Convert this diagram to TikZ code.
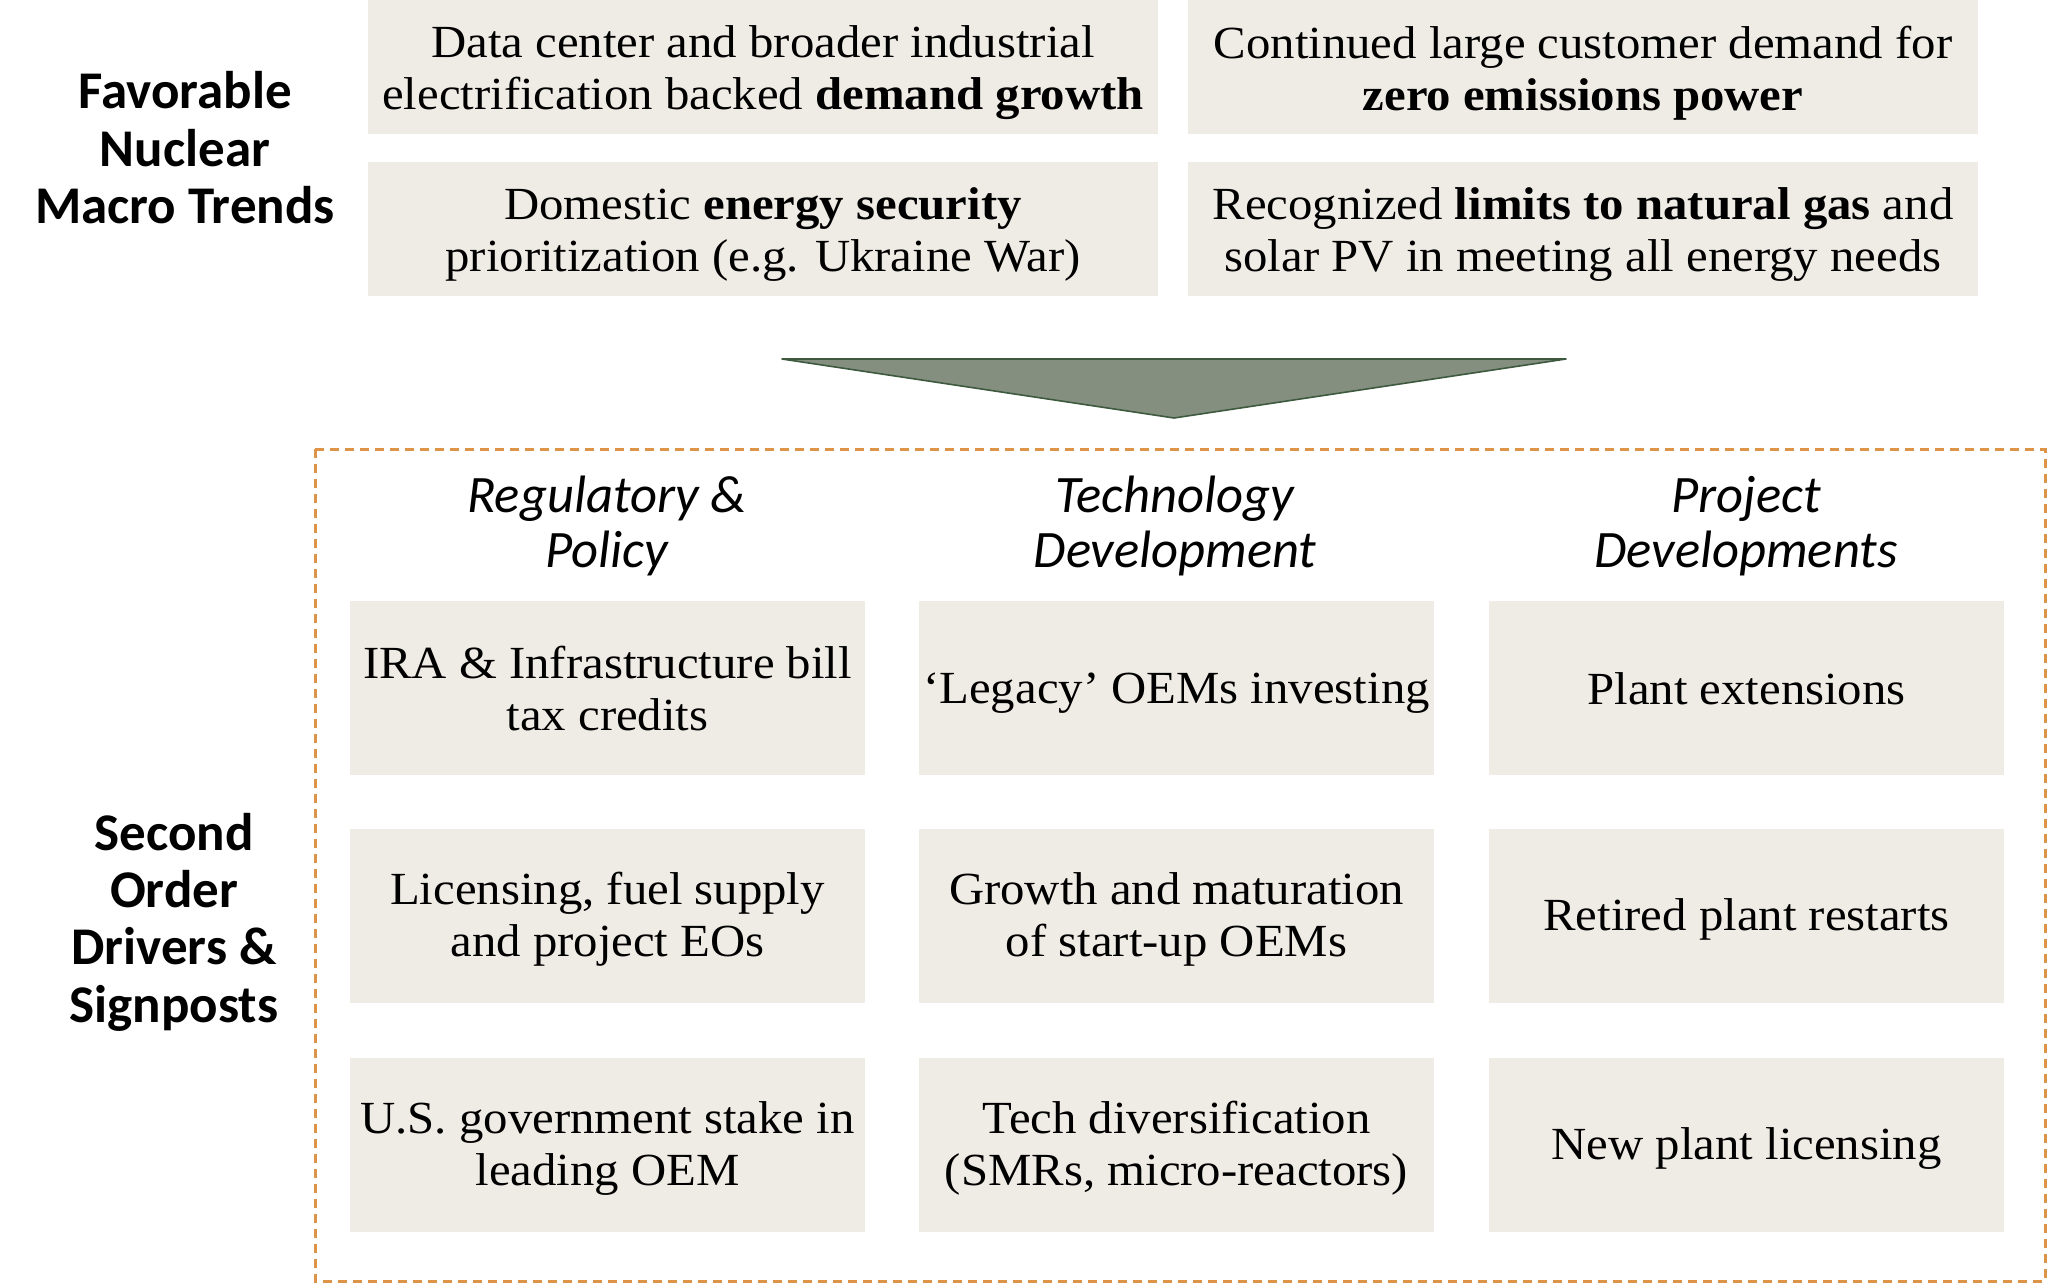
\documentclass[tikz,border=0pt]{standalone}
\usepackage{fontspec}
\setmainfont[FakeStretch=1.06]{Liberation Serif}
\newfontfamily\headfont{Carlito}
\definecolor{boxbg}{HTML}{EFEBE5}
\definecolor{frameorange}{HTML}{DE9448}
\definecolor{trifill}{HTML}{848F80}
\definecolor{triedge}{HTML}{3E5A3E}
\tikzset{
  btext/.style={align=center, inner sep=0pt, font=\fontsize{23}{26}\selectfont},
  topbox/.style={fill=boxbg, minimum width=395pt, minimum height=67pt, inner sep=0pt},
  gridbox/.style={fill=boxbg, minimum width=257.5pt, minimum height=87pt, inner sep=0pt},
  rowhead/.style={align=center, font=\headfont\bfseries\fontsize{26.5}{28.7}\selectfont},
  colhead/.style={align=center, font=\headfont\itshape\fontsize{26.3}{27.5}\selectfont},
  frame/.style={draw=frameorange, line width=1.5pt, dash pattern=on 4.5pt off 3pt},
}
\begin{document}
\begin{tikzpicture}[x=0.5pt,y=-0.5pt]
\useasboundingbox (0,0) rectangle (2048,1284);
% top boxes
\node[topbox, label={[btext, yshift=-3pt]center:{Data center and broader industrial\\electrification backed \textbf{demand growth}}}] (t1) at (763,67) {};
\node[topbox, label={[btext, yshift=-3pt]center:{Continued large customer demand for\\\textbf{zero emissions power}}}] (t2) at (1583,67) {};
\node[topbox, label={[btext, yshift=-3pt]center:{Domestic \textbf{energy security}\\prioritization (e.g. Ukraine War)}}] (t3) at (763,229) {};
\node[topbox, label={[btext, yshift=-3pt]center:{Recognized \textbf{limits to natural gas} and\\solar PV in meeting all energy needs}}] (t4) at (1583,229) {};
\node[rowhead] (h1) at (185,148) {Favorable\\Nuclear\\Macro Trends};
% triangle
\draw[fill=trifill, draw=triedge, line width=0.8pt, line join=round] (782,359) -- (1566,359) -- (1174,418) -- cycle;
% frame
\draw[frame] (315,449) rectangle (2045,1281);
\node[rowhead] (h2) at (174,922) {Second\\Order\\Drivers \&\\Signposts};
% column heads
\node[colhead] (c1) at (607,526) {Regulatory \&\\Policy};
\node[colhead] (c2) at (1175,526) {Technology\\Development};
\node[colhead] (c3) at (1746,526) {Project\\Developments};
% grid
\node[gridbox, label={[btext, yshift=-0.5pt]center:{IRA \& Infrastructure bill\\tax credits}}] (g11) at (607.5,688) {};
\node[gridbox, label={[btext, yshift=-2pt]center:{Licensing, fuel supply\\and project EOs}}] (g21) at (607.5,915.5) {};
\node[gridbox, label={[btext, yshift=-2pt]center:{U.S. government stake in\\leading OEM}}] (g31) at (607.5,1144.5) {};
\node[gridbox, label={[btext, yshift=-2.5pt]center:{‘Legacy’ OEMs investing}}] (g12) at (1176.5,688) {};
\node[gridbox, label={[btext, yshift=-2pt]center:{Growth and maturation\\of start-up OEMs}}] (g22) at (1176.5,915.5) {};
\node[gridbox, label={[btext, yshift=-2pt]center:{Tech diversification\\(SMRs, micro-reactors)}}] (g32) at (1176.5,1144.5) {};
\node[gridbox, label={[btext, yshift=-0.5pt]center:{Plant extensions}}] (g13) at (1746.5,688) {};
\node[gridbox, label={[btext, yshift=-2pt]center:{Retired plant restarts}}] (g23) at (1746.5,915.5) {};
\node[gridbox, label={[btext, yshift=-2pt]center:{New plant licensing}}] (g33) at (1746.5,1144.5) {};
\end{tikzpicture}
\end{document}
